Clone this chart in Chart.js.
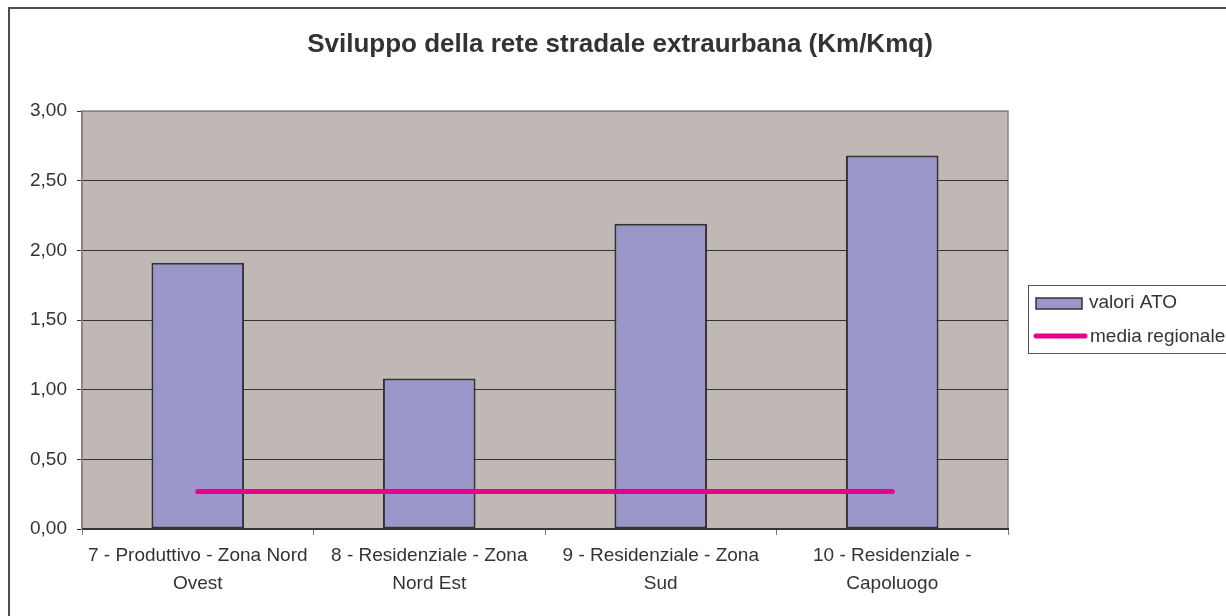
<!DOCTYPE html>
<html>
<head>
<meta charset="utf-8">
<script src="https://cdn.jsdelivr.net/npm/chart.js@4/dist/chart.umd.min.js"></script>
<style>
  html, body { margin: 0; padding: 0; background: #fff; }
  #wrap { width: 1226px; height: 616px; position: relative; }
</style>
</head>
<body>
<div id="wrap"><canvas id="myChart"></canvas></div>
<script>
let titleText = 'Sviluppo della rete stradale extraurbana (Km/Kmq)';
let categories = [
  ['7 - Produttivo - Zona Nord', 'Ovest'],
  ['8 - Residenziale - Zona', 'Nord Est'],
  ['9 - Residenziale - Zona', 'Sud'],
  ['10 - Residenziale -', 'Capoluogo']
];
let valoriATO = [1.91, 1.08, 2.19, 2.68];
let mediaRegionale = [0.27, 0.27, 0.27, 0.27];
let yTicks = [0, 0.5, 1, 1.5, 2, 2.5, 3];

let barColor = '#9b96c9';
let lineColor = '#e8008a';
let textColor = '#333';
let fontName = '"Liberation Sans", Arial, sans-serif';

// plot background, outer frame, title and legend
let decor = {
  id: 'decor',
  beforeDraw(chart) {
    let ctx = chart.ctx;
    let a = chart.chartArea;
    ctx.save();
    ctx.fillStyle = '#fff';
    ctx.fillRect(0, 0, chart.width, chart.height);
    ctx.strokeStyle = '#4d4d4d';
    ctx.lineWidth = 2;
    ctx.strokeRect(9, 8, chart.width + 50, chart.height + 50);
    ctx.fillStyle = '#c0b8b5';
    ctx.fillRect(a.left, a.top, a.right - a.left, a.bottom - a.top);
    ctx.strokeStyle = '#8a8280';
    ctx.lineWidth = 1.5;
    ctx.strokeRect(a.left, a.top, a.right - a.left, a.bottom - a.top);
    ctx.restore();
  },
  afterDraw(chart) {
    let ctx = chart.ctx;
    ctx.save();
    ctx.fillStyle = textColor;
    ctx.font = 'bold 26px ' + fontName;
    ctx.textAlign = 'center';
    ctx.textBaseline = 'alphabetic';
    ctx.fillText(titleText, 620, 52);

    // legend
    let bar = chart.data.datasets.find(d => d.type === 'bar');
    let line = chart.data.datasets.find(d => d.type === 'line');
    ctx.textBaseline = 'middle';
    ctx.strokeStyle = '#555';
    ctx.lineWidth = 1;
    ctx.strokeRect(1028.5, 285.5, 300, 68);
    ctx.font = '19px ' + fontName;
    ctx.textAlign = 'left';
    ctx.fillStyle = bar.backgroundColor;
    ctx.fillRect(1036, 298, 46, 11);
    ctx.strokeStyle = bar.borderColor;
    ctx.lineWidth = 1.5;
    ctx.strokeRect(1036, 298, 46, 11);
    ctx.fillStyle = textColor;
    ctx.fillText(bar.label, 1089, 303);
    ctx.strokeStyle = line.borderColor;
    ctx.lineWidth = 5;
    ctx.lineCap = 'round';
    ctx.beginPath();
    ctx.moveTo(1036, 336);
    ctx.lineTo(1085, 336);
    ctx.stroke();
    ctx.fillText(line.label, 1090, 337);
    ctx.restore();
  }
};

let ctx = document.getElementById('myChart');
let chart = new Chart(ctx, {
  type: 'bar',
  data: {
    labels: categories,
    datasets: [{
      type: 'line',
      label: 'media regionale',
      data: mediaRegionale,
      borderColor: lineColor,
      backgroundColor: lineColor,
      borderWidth: 5,
      borderCapStyle: 'round',
      pointRadius: 0,
      order: 0
    }, {
      type: 'bar',
      label: 'valori ATO',
      data: valoriATO,
      backgroundColor: barColor,
      borderColor: '#333',
      borderWidth: 2,
      borderSkipped: false,
      categoryPercentage: 1,
      barPercentage: 0.4,
      order: 1
    }]
  },
  options: {
    responsive: true,
    maintainAspectRatio: false,
    animation: false,
    layout: { padding: { top: 111, right: 218, bottom: 0, left: 0 } },
    plugins: {
      legend: { display: false },
      title: { display: false },
      tooltip: { enabled: false }
    },
    scales: {
      x: {
        offset: true,
        grid: { drawOnChartArea: false, drawTicks: true, tickLength: 6, tickColor: '#777', offset: true },
        border: { display: true, color: '#333', width: 2 },
        ticks: {
          color: textColor,
          font: { family: fontName, size: 19, lineHeight: 1.47 },
          maxRotation: 0,
          autoSkip: false,
          padding: 7
        },
        afterFit(scale) { scale.height = 87; }
      },
      y: {
        min: 0,
        max: 3,
        afterBuildTicks(scale) { scale.ticks = yTicks.map(v => ({ value: v })); },
        grid: {
          color: c => c.tick && c.tick.value === 3 ? '#8a8280' : '#333',
          lineWidth: 1,
          tickLength: 5,
          tickColor: '#333'
        },
        border: { display: true, color: '#8a8280', width: 1.5 },
        ticks: {
          color: textColor,
          font: { family: fontName, size: 19 },
          padding: 10,
          callback: v => v.toFixed(2).replace('.', ',')
        },
        afterFit(scale) { scale.width = 82; }
      }
    }
  },
  plugins: [decor]
});
</script>
</body>
</html>
